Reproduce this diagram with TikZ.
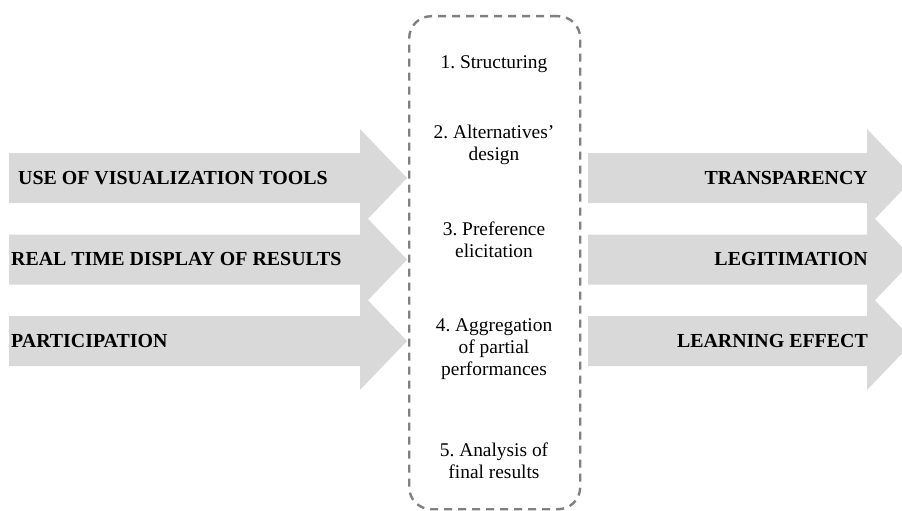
\documentclass[tikz,border=0pt]{standalone}
\usepackage{fontspec}
\setmainfont{Liberation Serif}
\frenchspacing
\definecolor{arrowgray}{HTML}{D9D9D9}
\definecolor{dashgray}{HTML}{808080}
\begin{document}
\begin{tikzpicture}[x=1pt,y=-1pt,
  arrowfill/.style={fill=arrowgray,draw=none},
  leftlabel/.style={anchor=west,inner sep=0pt,font=\fontsize{19.9}{22}\selectfont\bfseries},
  rightlabel/.style={anchor=east,inner sep=0pt,font=\fontsize{19.9}{22}\selectfont\bfseries},
  stepbox/.style={align=center,inner sep=0pt,font=\fontsize{19.4}{22}\selectfont},
  phasebox/.style={draw=dashgray,line width=2.4pt,dash pattern=on 8pt off 6pt,rounded corners=22pt,inner sep=0pt}]
\useasboundingbox (0,0) rectangle (902,511);
\clip (0,0) rectangle (902,511);
% arrows
\foreach \c in {178,259.5,341}{
  \fill[arrowfill] (9,\c-25) -- (360,\c-25) -- (360,\c-49) -- (407,\c) -- (360,\c+49) -- (360,\c+25) -- (9,\c+25) -- cycle;
  \fill[arrowfill] (588,\c-25) -- (867,\c-25) -- (867,\c-49) -- (914,\c) -- (867,\c+49) -- (867,\c+25) -- (588,\c+25) -- cycle;
}
% dashed phase box
\node[phasebox,minimum width=171pt,minimum height=493pt,anchor=north west] (phase) at (408,15) {};
% labels
\node[leftlabel] (use) at (18,178) {USE OF VISUALIZATION TOOLS};
\node[leftlabel] (real) at (11,259.5) {REAL TIME DISPLAY OF RESULTS};
\node[leftlabel] (part) at (11,341) {PARTICIPATION};
\node[rightlabel] (transp) at (868,178) {TRANSPARENCY};
\node[rightlabel] (legit) at (868,259.5) {LEGITIMATION};
\node[rightlabel] (learn) at (868,341) {LEARNING EFFECT};
% steps
\node[stepbox] (s1) at (494,64) {1. Structuring};
\node[stepbox] (s2) at (494,145) {2. Alternatives’\\design};
\node[stepbox] (s3) at (494,240) {3. Preference\\elicitation};
\node[stepbox] (s4) at (494,349) {4. Aggregation\\of partial\\performances};
\node[stepbox] (s5) at (494,461) {5. Analysis of\\final results};
\end{tikzpicture}
\end{document}
